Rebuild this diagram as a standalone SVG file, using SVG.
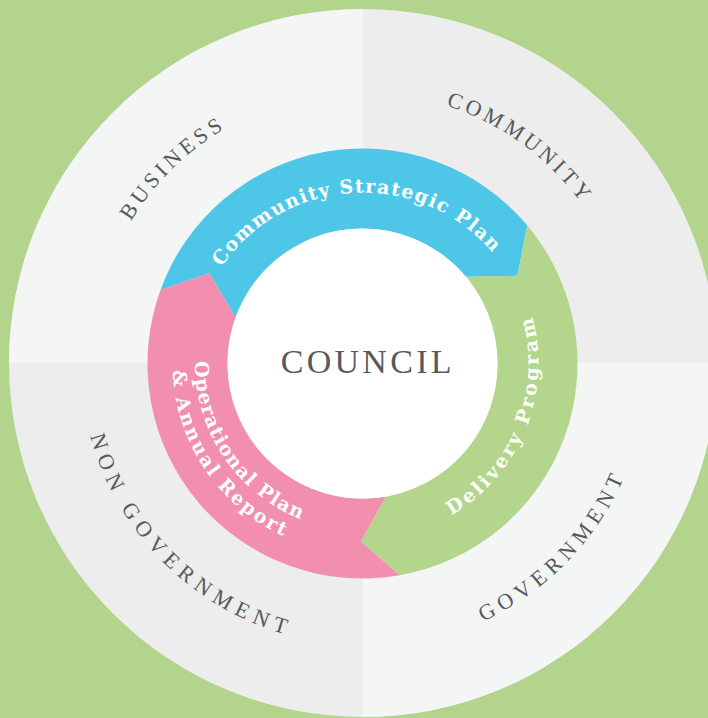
<svg xmlns="http://www.w3.org/2000/svg" width="708" height="718" viewBox="0 0 708 718">
  <style>
    .ring { font-family: "DejaVu Serif", "Liberation Serif", serif; font-weight: bold; font-size: 19px; fill: #ffffff; }
    .outer { font-family: "Liberation Serif", "Times New Roman", serif; font-size: 22px; fill: #58595b; }
    .council { font-family: "Liberation Serif", "Times New Roman", serif; font-size: 34px; fill: #58595b; letter-spacing: 3.3px; }
  </style>
  <defs>
    <path id="p-csp" d="M191.71,372 A171,171 0 0 1 533.29,355"/>
    <path id="p-del" d="M297.42,527.03 A176,176 0 0 0 427.58,199.97"/>
    <path id="p-op1" d="M268.56,224.22 A168,168 0 0 0 456.44,502.78"/>
    <path id="p-op2" d="M256.25,205.98 A190,190 0 0 0 468.75,521.02"/>
    <path id="p-bus" d="M168.33,552.97 A272,272 0 0 1 557.67,173.03"/>
    <path id="p-com" d="M143.23,202.74 A272,272 0 0 1 582.77,523.26"/>
    <path id="p-non" d="M162.54,163.24 A283,283 0 0 0 563.46,562.76"/>
    <path id="p-gov" d="M165.38,568.36 A285,285 0 0 0 560.62,157.64"/>
  </defs>

  <rect x="0" y="0" width="708" height="718" fill="#b3d48c"/>

  <g id="stakeholders">
    <circle cx="363" cy="363" r="354" fill="#ecedec"/>
    <path d="M363,363 L9,363 A354,354 0 0 1 363,9 Z" fill="#f4f6f5"/>
    <path d="M363,363 L717,363 A354,354 0 0 1 363,717 Z" fill="#f4f6f5"/>
  </g>

  <g id="business">
    <text class="outer" letter-spacing="4" text-anchor="middle"><textPath href="#p-bus" startOffset="50%">BUSINESS</textPath></text>
  </g>
  <g id="community">
    <text class="outer" letter-spacing="3.8" text-anchor="middle"><textPath href="#p-com" startOffset="50%">COMMUNITY</textPath></text>
  </g>
  <g id="non-government">
    <text class="outer" letter-spacing="6.4" text-anchor="middle"><textPath href="#p-non" startOffset="50%">NON GOVERNMENT</textPath></text>
  </g>
  <g id="government">
    <text class="outer" letter-spacing="5.7" text-anchor="middle"><textPath href="#p-gov" startOffset="50%">GOVERNMENT</textPath></text>
  </g>

  <g id="community-strategic-plan">
    <path d="M160.47,289.97 A215,215 0 0 1 527.2,225.3 L517.42,275.85 L465.92,276.72 A135,135 0 0 0 235.64,317.33 L209.13,273.16 Z" fill="#4dc6e8"/>
    <text class="ring" letter-spacing="1.4" text-anchor="middle"><textPath href="#p-csp" startOffset="50%">Community Strategic Plan</textPath></text>
  </g>

  <g id="delivery-program">
    <path d="M527.2,225.3 A215,215 0 0 1 399.83,575.23 L360.95,541.49 L385.94,496.45 A135,135 0 0 0 465.92,276.72 L517.42,275.85 Z" fill="#b3d68c"/>
    <text class="ring" letter-spacing="2.9" text-anchor="middle"><textPath href="#p-del" startOffset="50%">Delivery Program</textPath></text>
  </g>

  <g id="operational-plan">
    <path d="M399.83,575.23 A215,215 0 0 1 160.47,289.97 L209.13,273.16 L235.64,317.33 A135,135 0 0 0 385.94,496.45 L360.95,541.49 Z" fill="#f28fae"/>
    <text class="ring" letter-spacing="1.4" text-anchor="middle"><textPath href="#p-op1" startOffset="50%">Operational Plan</textPath></text>
    <text class="ring" letter-spacing="2.2" text-anchor="middle"><textPath href="#p-op2" startOffset="50%">&amp; Annual Report</textPath></text>
  </g>

  <g id="council">
    <circle cx="362.5" cy="363.5" r="135" fill="#ffffff"/>
    <text class="council" x="367.8" y="373.3" text-anchor="middle">COUNCIL</text>
  </g>

  <g id="connectors"/>
</svg>
